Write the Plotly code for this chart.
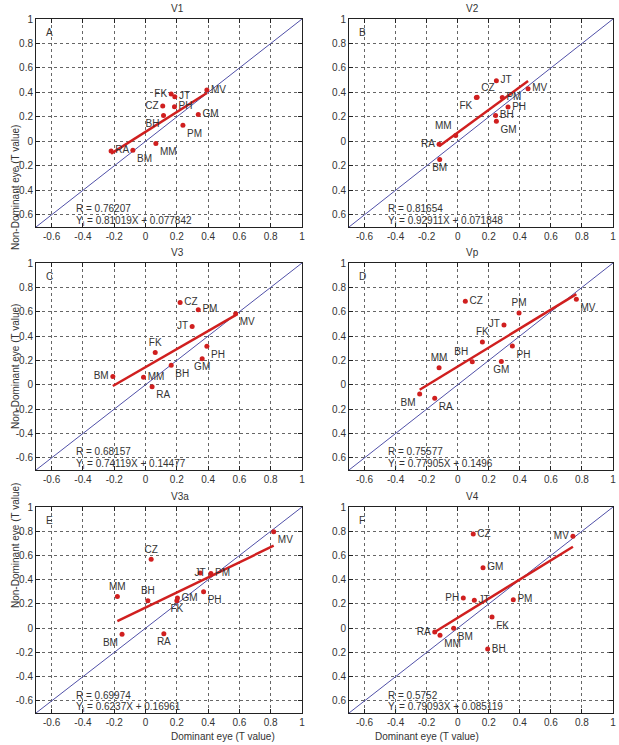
import plotly.graph_objects as go

subjects = ["RA", "BM", "MM", "BH", "CZ", "FK", "JT", "PH", "GM", "PM", "MV"]

panel_titles = ["V1", "V2", "V3", "Vp", "V3a", "V4"]
panel_letters = ["A", "B", "C", "D", "E", "F"]

# Dominant eye (x) and non-dominant eye (y) T values, in subject order
v1_x = [-0.22, -0.081, 0.066, 0.115, 0.11, 0.164, 0.187, 0.185, 0.337, 0.239, 0.392]
v1_y = [-0.078, -0.072, -0.018, 0.211, 0.288, 0.386, 0.364, 0.282, 0.22, 0.132, 0.419]
v2_x = [-0.12, -0.116, -0.013, 0.244, 0.125, 0.12, 0.249, 0.324, 0.249, 0.287, 0.453]
v2_y = [-0.023, -0.149, 0.048, 0.211, 0.36, 0.359, 0.495, 0.28, 0.165, 0.359, 0.43]
v3_x = [0.042, -0.209, -0.013, 0.164, 0.221, 0.062, 0.298, 0.392, 0.362, 0.337, 0.576]
v3_y = [-0.017, 0.068, 0.062, 0.161, 0.676, 0.265, 0.479, 0.317, 0.213, 0.616, 0.583]
vp_x = [-0.148, -0.245, -0.12, 0.094, 0.049, 0.159, 0.298, 0.352, 0.281, 0.395, 0.764]
vp_y = [-0.111, -0.076, 0.139, 0.188, 0.686, 0.351, 0.491, 0.318, 0.191, 0.59, 0.703]
v3a_x = [0.117, -0.15, -0.18, 0.015, 0.036, 0.2, 0.349, 0.371, 0.204, 0.418, 0.819]
v3a_y = [-0.045, -0.05, 0.262, 0.226, 0.569, 0.226, 0.455, 0.30, 0.248, 0.452, 0.795]
v4_x = [-0.148, -0.026, -0.114, 0.193, 0.10, 0.221, 0.107, 0.036, 0.163, 0.358, 0.742]
v4_y = [-0.032, -0.001, -0.059, -0.172, 0.777, 0.092, 0.23, 0.249, 0.499, 0.235, 0.758]

# Regression statistics printed in each panel
r_values = ["0.76207", "0.81654", "0.68157", "0.75577", "0.69974", "0.5752"]
slopes = [0.81019, 0.92911, 0.74119, 0.77905, 0.6237, 0.79093]
intercepts = [0.077842, 0.071848, 0.14477, 0.1496, 0.16961, 0.085119]
slope_txt = ["0.81019", "0.92911", "0.74119", "0.77905", "0.6237", "0.79093"]
intercept_txt = ["0.077842", "0.071848", "0.14477", "0.1496", "0.16961", "0.085119"]

tick_vals = [-0.6, -0.4, -0.2, 0, 0.2, 0.4, 0.6, 0.8, 1]
tick_text = ["-0.6", "-0.4", "-0.2", "0", "0.2", "0.4", "0.6", "0.8", "1"]
tick_text_right_y = ["0.6", "0.4", "0.2", "0", "0.2", "0.4", "0.6", "0.8", "1"]

x_title = "Dominant eye (T value)"
y_title = "Non-Dominant eye (T value)"

xs = [v1_x, v2_x, v3_x, vp_x, v3a_x, v4_x]
ys = [v1_y, v2_y, v3_y, vp_y, v3a_y, v4_y]

# ---- styling / layout (not data) ----
label_pos = [
    ["middle right", "bottom right", "bottom right", "bottom left", "middle left", "middle left",
     "middle right", "middle right", "middle right", "bottom right", "middle right"],
    ["middle left", "bottom center", "top left", "middle right", "top right", "bottom left",
     "middle right", "middle right", "bottom right", "middle right", "middle right"],
    ["bottom right", "middle left", "middle right", "bottom right", "middle right", "top center",
     "middle left", "bottom right", "bottom center", "middle right", "bottom right"],
    ["bottom right", "bottom left", "top center", "top left", "middle right", "top center",
     "middle left", "bottom right", "bottom center", "top center", "bottom right"],
    ["bottom center", "bottom left", "top center", "top center", "top center", "bottom center",
     "middle center", "bottom right", "middle right", "middle right", "bottom right"],
    ["middle left", "bottom right", "bottom right", "middle right", "middle right", "bottom right",
     "middle right", "middle left", "middle right", "middle right", "middle left"],
]

W, H = 619, 745
x_doms = [(36 / W, 302 / W), (349 / W, 613 / W)]
y_doms = [(1 - 227 / H, 1 - 19 / H), (1 - 470 / H, 1 - 263 / H), (1 - 713 / H, 1 - 507 / H)]

FONT = "Liberation Sans, Arial, sans-serif"
RED = "#d01f1f"
BLUE = "#5050a8"
TXT = "#333333"

fig = go.Figure()
annotations = []

for i in range(6):
    row, col = divmod(i, 2)
    ax = "" if i == 0 else str(i + 1)
    xref, yref = "x" + ax, "y" + ax

    # identity line
    fig.add_trace(go.Scatter(x=[-0.7, 1], y=[-0.7, 1], mode="lines",
                             line=dict(color=BLUE, width=1), xaxis=xref, yaxis=yref,
                             showlegend=False, hoverinfo="skip"))
    # regression line over data range
    x0, x1 = min(xs[i]), max(xs[i])
    fig.add_trace(go.Scatter(x=[x0, x1], y=[slopes[i] * x0 + intercepts[i], slopes[i] * x1 + intercepts[i]],
                             mode="lines", line=dict(color=RED, width=2.5),
                             xaxis=xref, yaxis=yref, showlegend=False))
    # points with labels
    fig.add_trace(go.Scatter(x=xs[i], y=ys[i], mode="markers+text", text=subjects,
                             textposition=label_pos[i],
                             textfont=dict(family=FONT, size=10, color=TXT),
                             marker=dict(color=RED, size=5),
                             xaxis=xref, yaxis=yref, showlegend=False, cliponaxis=False))

    common = dict(range=[-0.7, 1], tickmode="array", tickvals=tick_vals,
                  showgrid=True, gridcolor="#666666", griddash="dot", gridwidth=1,
                  zeroline=False, showline=True, linecolor="#222222", linewidth=1, mirror="ticks",
                  ticks="inside", ticklen=4, tickcolor="#222222", automargin=False,
                  ticklabeloverflow="allow",
                  tickfont=dict(family=FONT, size=10, color=TXT))
    xa = dict(common, domain=x_doms[col], anchor=yref, ticktext=tick_text)
    ya = dict(common, domain=y_doms[row], anchor=xref,
              ticktext=tick_text if col == 0 else tick_text_right_y)
    fig.update_layout({"xaxis" + ax: xa, "yaxis" + ax: ya})

    xc = (x_doms[col][0] + x_doms[col][1]) / 2
    yc = (y_doms[row][0] + y_doms[row][1]) / 2
    if row == 2:
        annotations.append(dict(text=x_title, x=xc, y=0, xref="paper", yref="paper",
                                yanchor="bottom", yshift=1, showarrow=False,
                                font=dict(family=FONT, size=10, color=TXT)))
    if col == 0:
        annotations.append(dict(text=y_title, x=8 / W, y=yc, xref="paper", yref="paper",
                                textangle=-90, showarrow=False,
                                font=dict(family=FONT, size=10, color=TXT)))

    # panel title
    annotations.append(dict(text=panel_titles[i], x=xc, y=y_doms[row][1], xref="paper", yref="paper",
                            yanchor="bottom", yshift=3, showarrow=False,
                            font=dict(family=FONT, size=10, color=TXT)))
    # panel letter
    annotations.append(dict(text=panel_letters[i], x=-0.65, y=0.89, xref=xref, yref=yref,
                            xanchor="left", showarrow=False, font=dict(family=FONT, size=10, color=TXT)))
    # stats
    annotations.append(dict(text="R = " + r_values[i], x=-0.46, y=-0.552, xref=xref, yref=yref,
                            xanchor="left", showarrow=False, font=dict(family=FONT, size=10, color=TXT)))
    annotations.append(dict(text="Y<sub>i</sub> = " + slope_txt[i] + "X + " + intercept_txt[i],
                            x=-0.46, y=-0.648, xref=xref, yref=yref,
                            xanchor="left", showarrow=False, font=dict(family=FONT, size=10, color=TXT)))

fig.update_layout(width=W, height=H, margin=dict(l=0, r=0, t=0, b=0, autoexpand=False),
                  paper_bgcolor="white", plot_bgcolor="white",
                  annotations=annotations, font=dict(family=FONT, color=TXT))

fig.write_html("out.html", config={"displayModeBar": False},
               post_script="document.body.style.margin='0';document.body.style.overflow='hidden';")
